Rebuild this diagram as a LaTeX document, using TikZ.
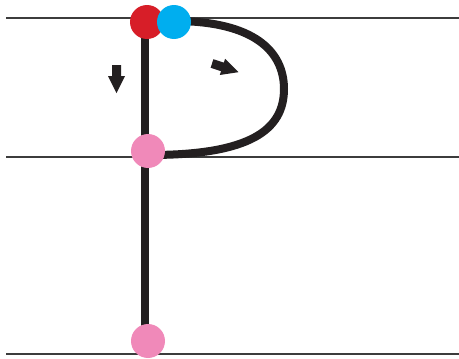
\documentclass[tikz,border=0pt]{standalone}
\definecolor{ink}{RGB}{35,31,32}
\definecolor{rule}{RGB}{60,60,60}
\definecolor{dotred}{RGB}{215,30,40}
\definecolor{dotblue}{RGB}{0,174,239}
\definecolor{dotpink}{RGB}{240,137,185}
\tikzset{
  guide/.style={draw=rule,line width=1.6pt},
  letter/.style={draw=ink,line width=8pt},
  dot/.style={circle,inner sep=0pt,minimum size=34pt,fill=#1},
  dirarrow/.style={fill=ink}
}
\begin{document}
\begin{tikzpicture}[x=1pt,y=-1pt]
\useasboundingbox (0,0) rectangle (459,359);
% guide lines
\coordinate (t1) at (6,18);   \coordinate (t2) at (459,18);
\coordinate (m1) at (6,157);  \coordinate (m2) at (459,157);
\coordinate (b1) at (6,354);  \coordinate (b2) at (459,354);
\draw[guide] (t1) -- (t2);
\draw[guide] (m1) -- (m2);
\draw[guide] (b1) -- (b2);
% letter P
\coordinate (stemtop) at (145,22);
\coordinate (stembot) at (145,341);
\draw[letter] (stemtop) -- (stembot);
\coordinate (bowlstart) at (174,21);
\coordinate (bowlright) at (284,89);
\coordinate (bowlend) at (150,155);
\draw[letter] (bowlstart) .. controls (255,21) and (284,52) .. (bowlright)
  .. controls (284,130) and (250,155) .. (bowlend);
% direction arrows
\begin{scope}[shift={(116.5,65)},rotate=-90]
  \fill[dirarrow] (0,-4.5) -- (11,-4.5) -- (11,-8.5) -- (28,0) -- (11,8.5) -- (11,4.5) -- (0,4.5) -- cycle;
\end{scope}
\begin{scope}[shift={(212,63.5)},rotate=-18]
  \fill[dirarrow] (0,-4.5) -- (11,-4.5) -- (11,-8.5) -- (28,0) -- (11,8.5) -- (11,4.5) -- (0,4.5) -- cycle;
\end{scope}
% dots
\node[dot=dotred] (red) at (147,22) {};
\node[dot=dotblue] (blue) at (174,22) {};
\node[dot=dotpink] (pinkmid) at (148,151) {};
\node[dot=dotpink] (pinkbot) at (148,341) {};
\end{tikzpicture}
\end{document}
